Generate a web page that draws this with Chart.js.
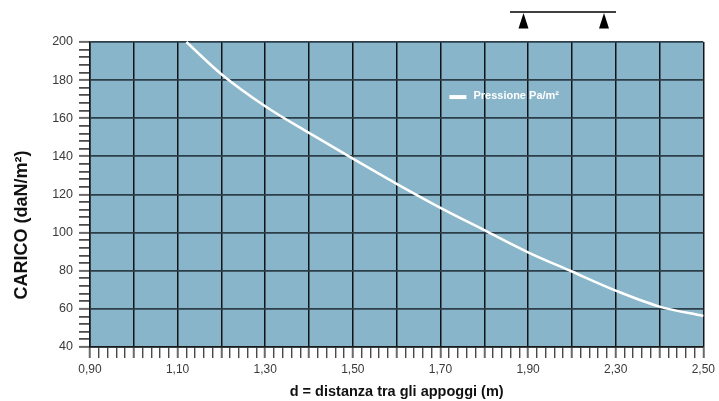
<!DOCTYPE html>
<html>
<head>
<meta charset="utf-8">
<script src="https://cdn.jsdelivr.net/npm/chart.js@4"></script>
<style>
  body { margin: 0; background: #fff; }
  #wrap { width: 719px; height: 401px; }
</style>
</head>
<body>
<div id="wrap"><canvas id="chart" width="719" height="401"></canvas></div>
<script>
// distanza (m) lungo la griglia e carico
const X_VALUES = [1.12, 1.20, 1.30, 1.40, 1.50, 1.60, 1.70, 1.80, 1.90, 2.00, 2.10, 2.20, 2.30];
const LOAD_VALUES = [200, 183.1, 166.3, 152.3, 138.8, 125.6, 113, 101.3, 89.7, 79.6, 69.6, 61.2, 56.3];
const X_TICK_LABELS = ["0,90", "1,10", "1,30", "1,50", "1,70", "1,90", "2,30", "2,50"];
const SERIES_LABEL = "Pressione Pa/m²";
const Y_TITLE = "CARICO (daN/m²)";
const X_TITLE = "d = distanza tra gli appoggi (m)";

const X_MIN = 0.9, X_MAX = 2.3, X_MINOR = 0.02;
const Y_MIN = 40, Y_MAX = 200, Y_MINOR = 4;

const PLOT_BG = "#88b5c9";
const FONT = "'Liberation Sans', Arial, sans-serif";

function minorTicks(min, max, step) {
    const out = [];
    const n = Math.round((max - min) / step);
    for (let i = 0; i <= n; i++) {
        out.push({ value: Math.round((min + i * step) * 1000) / 1000 });
    }
    return out;
}

const plotBackground = {
    id: "plotBackground",
    beforeDraw(chart) {
        const { ctx, chartArea: a } = chart;
        ctx.save();
        ctx.fillStyle = PLOT_BG;
        ctx.fillRect(a.left, a.top, a.right - a.left, a.bottom - a.top);
        ctx.restore();
    },
};

// legenda interna, titolo asse y e schema degli appoggi in alto
const extras = {
    id: "extras",
    afterDatasetsDraw(chart) {
        const { ctx, chartArea: a } = chart;
        const w = a.right - a.left, h = a.bottom - a.top;
        const ds = chart.data.datasets[0];
        const lx = a.left + w * 0.586, ly = a.top + h * 0.174;
        ctx.save();
        ctx.fillStyle = ds.borderColor;
        ctx.fillRect(lx, ly, 17, 4);
        ctx.font = "bold 11px " + FONT;
        ctx.textBaseline = "middle";
        ctx.fillText(ds.label, lx + 24, ly + 0.5);

        // titolo asse y (un po' sotto il centro, come nell'originale)
        ctx.translate(22, a.top + h * 0.6);
        ctx.rotate(-Math.PI / 2);
        ctx.fillStyle = "#111";
        ctx.font = "bold 18px " + FONT;
        ctx.textAlign = "center";
        ctx.textBaseline = "middle";
        ctx.fillText(Y_TITLE, 0, 0);
        ctx.setTransform(1, 0, 0, 1, 0, 0);

        // trave su due appoggi
        ctx.strokeStyle = "#000";
        ctx.lineWidth = 1.5;
        ctx.beginPath();
        ctx.moveTo(510, 12);
        ctx.lineTo(616, 12);
        ctx.stroke();
        ctx.fillStyle = "#000";
        for (const cx of [523.5, 604]) {
            ctx.beginPath();
            ctx.moveTo(cx, 13);
            ctx.lineTo(cx - 5, 28.5);
            ctx.lineTo(cx + 5, 28.5);
            ctx.closePath();
            ctx.fill();
        }
        ctx.restore();
    },
};

const chart = new Chart(document.getElementById("chart"), {
    type: "line",
    data: {
        datasets: [
            {
                label: SERIES_LABEL,
                data: X_VALUES.map((x, i) => ({ x, y: LOAD_VALUES[i] })),
                borderColor: "#ffffff",
                borderWidth: 2.5,
                pointRadius: 0,
                cubicInterpolationMode: "monotone",
                clip: false,
            },
        ],
    },
    options: {
        responsive: false,
        animation: false,
        layout: { padding: { top: 42, right: 15, left: 0, bottom: 0 } },
        plugins: {
            legend: { display: false },
            tooltip: { enabled: false },
        },
        scales: {
            x: {
                type: "linear",
                min: X_MIN,
                max: X_MAX,
                afterBuildTicks: (s) => { s.ticks = minorTicks(X_MIN, X_MAX, X_MINOR); },
                afterFit: (s) => { s.height = 54; },
                border: { color: "#1a1a1a", width: 1.5 },
                grid: {
                    color: (c) => (c.index % 5 === 0 ? "#111417" : "rgba(0,0,0,0)"),
                    lineWidth: 1.5,
                    tickColor: (c) => (c.index % 5 === 0 ? "#6a6a6a" : "#2a2a2a"),
                    tickWidth: (c) => (c.index % 5 === 0 ? 2 : 1.2),
                    tickLength: 11,
                },
                ticks: {
                    autoSkip: false,
                    maxRotation: 0,
                    padding: 4,
                    color: "#3a3a3a",
                    font: { family: FONT, size: 12 },
                    callback: (v, i) => (i % 10 === 0 ? X_TICK_LABELS[i / 10] : ""),
                },
                title: {
                    display: true,
                    text: X_TITLE,
                    color: "#111",
                    font: { family: FONT, size: 14.5, weight: "bold" },
                    padding: { top: 0, bottom: 0 },
                },
            },
            y: {
                type: "linear",
                min: Y_MIN,
                max: Y_MAX,
                afterBuildTicks: (s) => { s.ticks = minorTicks(Y_MIN, Y_MAX, Y_MINOR); },
                afterFit: (s) => { s.width = 90; },
                border: { color: "#1a1a1a", width: 1.5 },
                grid: {
                    color: (c) => (c.index % 5 === 0 ? "#2c3e47" : "rgba(0,0,0,0)"),
                    lineWidth: 1.8,
                    tickColor: (c) => (c.index % 5 === 0 ? "#6a6a6a" : "#2a2a2a"),
                    tickWidth: (c) => (c.index % 5 === 0 ? 2 : 1.5),
                    tickLength: 11,
                },
                ticks: {
                    autoSkip: false,
                    padding: 6,
                    color: "#3a3a3a",
                    font: { family: FONT, size: 12.5 },
                    callback: (v, i) => (i % 5 === 0 ? String(v) : ""),
                },
                title: { display: false },
            },
        },
    },
    plugins: [plotBackground, extras],
});
</script>
</body>
</html>
